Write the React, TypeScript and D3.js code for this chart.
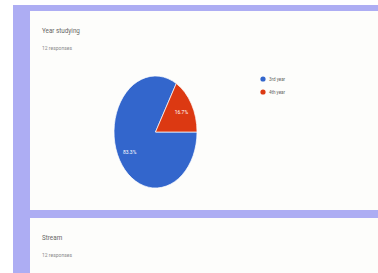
import * as d3 from "d3";
import { useEffect, useRef } from "react";

const QUESTIONS = ["Year studying", "Stream"];
const RESPONSES = ["12 responses", "12 responses"];
const CATEGORIES = ["3rd year", "4th year"];
const VALUES = [10, 2];
const COLORS = ["#3366cc", "#dc3912"];

export default function App() {
  const ref = useRef<SVGSVGElement | null>(null);

  useEffect(() => {
    const svg = d3.select(ref.current);
    svg.selectAll("*").remove();

    const width = 378;
    const height = 273;
    const lavender = "#adadf3";
    const font = "Roboto, 'Noto Sans', sans-serif";

    svg.attr("viewBox", `0 0 ${width} ${height}`);

    svg.append("rect").attr("width", width).attr("height", height).attr("fill", "#ffffff");
    svg.append("rect").attr("x", 13).attr("y", 5).attr("width", width - 13).attr("height", height - 5).attr("fill", lavender);

    // cards
    const cards = [
      { y: 11, h: 199 },
      { y: 218, h: 60 },
    ];
    cards.forEach((c, i) => {
      svg.append("rect").attr("x", 30).attr("y", c.y).attr("width", width - 30).attr("height", c.h).attr("fill", "#fdfdfb");
      svg.append("text")
        .attr("x", 42)
        .attr("y", c.y + 22)
        .attr("font-family", font)
        .attr("font-size", 6.3)
        .attr("fill", "#666")
        .text(QUESTIONS[i]);
      svg.append("text")
        .attr("x", 42)
        .attr("y", c.y + 39)
        .attr("font-family", font)
        .attr("font-size", 5)
        .attr("fill", "#8a8a8a")
        .text(RESPONSES[i]);
    });

    // pie (stretched vertically like the screenshot)
    const cx = 155.5;
    const cy = 132;
    const rx = 41.5;
    const ry = 56;
    const total = d3.sum(VALUES);
    const pie = d3.pie<number>().sort(null).startAngle(Math.PI / 2).endAngle(Math.PI / 2 + Math.PI * 2);
    const arc = d3.arc<d3.PieArcDatum<number>>().innerRadius(0).outerRadius(rx);
    const arcs = pie(VALUES);

    const g = svg.append("g").attr("transform", `translate(${cx},${cy}) scale(1,${ry / rx})`);
    g.selectAll("path")
      .data(arcs)
      .enter()
      .append("path")
      .attr("d", arc)
      .attr("fill", (_, i) => COLORS[i])
      .attr("stroke", "#fff")
      .attr("stroke-width", 0.6);

    const labelArc = d3.arc<d3.PieArcDatum<number>>().innerRadius(rx * 0.72).outerRadius(rx * 0.72);
    arcs.forEach((a) => {
      const [x, y] = labelArc.centroid(a);
      svg.append("text")
        .attr("x", cx + x)
        .attr("y", cy + (y * ry) / rx)
        .attr("text-anchor", "middle")
        .attr("dominant-baseline", "central")
        .attr("font-family", font)
        .attr("font-size", 5)
        .attr("fill", "#fff")
        .text(d3.format(".1%")(a.value / total));
    });

    // legend
    CATEGORIES.forEach((c, i) => {
      const y = 79 + i * 13;
      svg.append("circle").attr("cx", 263).attr("cy", y).attr("r", 2.6).attr("fill", COLORS[i]);
      svg.append("text")
        .attr("x", 269)
        .attr("y", y)
        .attr("dominant-baseline", "central")
        .attr("font-family", font)
        .attr("font-size", 4.5)
        .attr("fill", "#666")
        .text(c);
    });
  }, []);

  return (
    <svg
      ref={ref}
      width={378}
      height={273}
      style={{ position: "absolute", left: 0, top: 0, display: "block" }}
    />
  );
}
